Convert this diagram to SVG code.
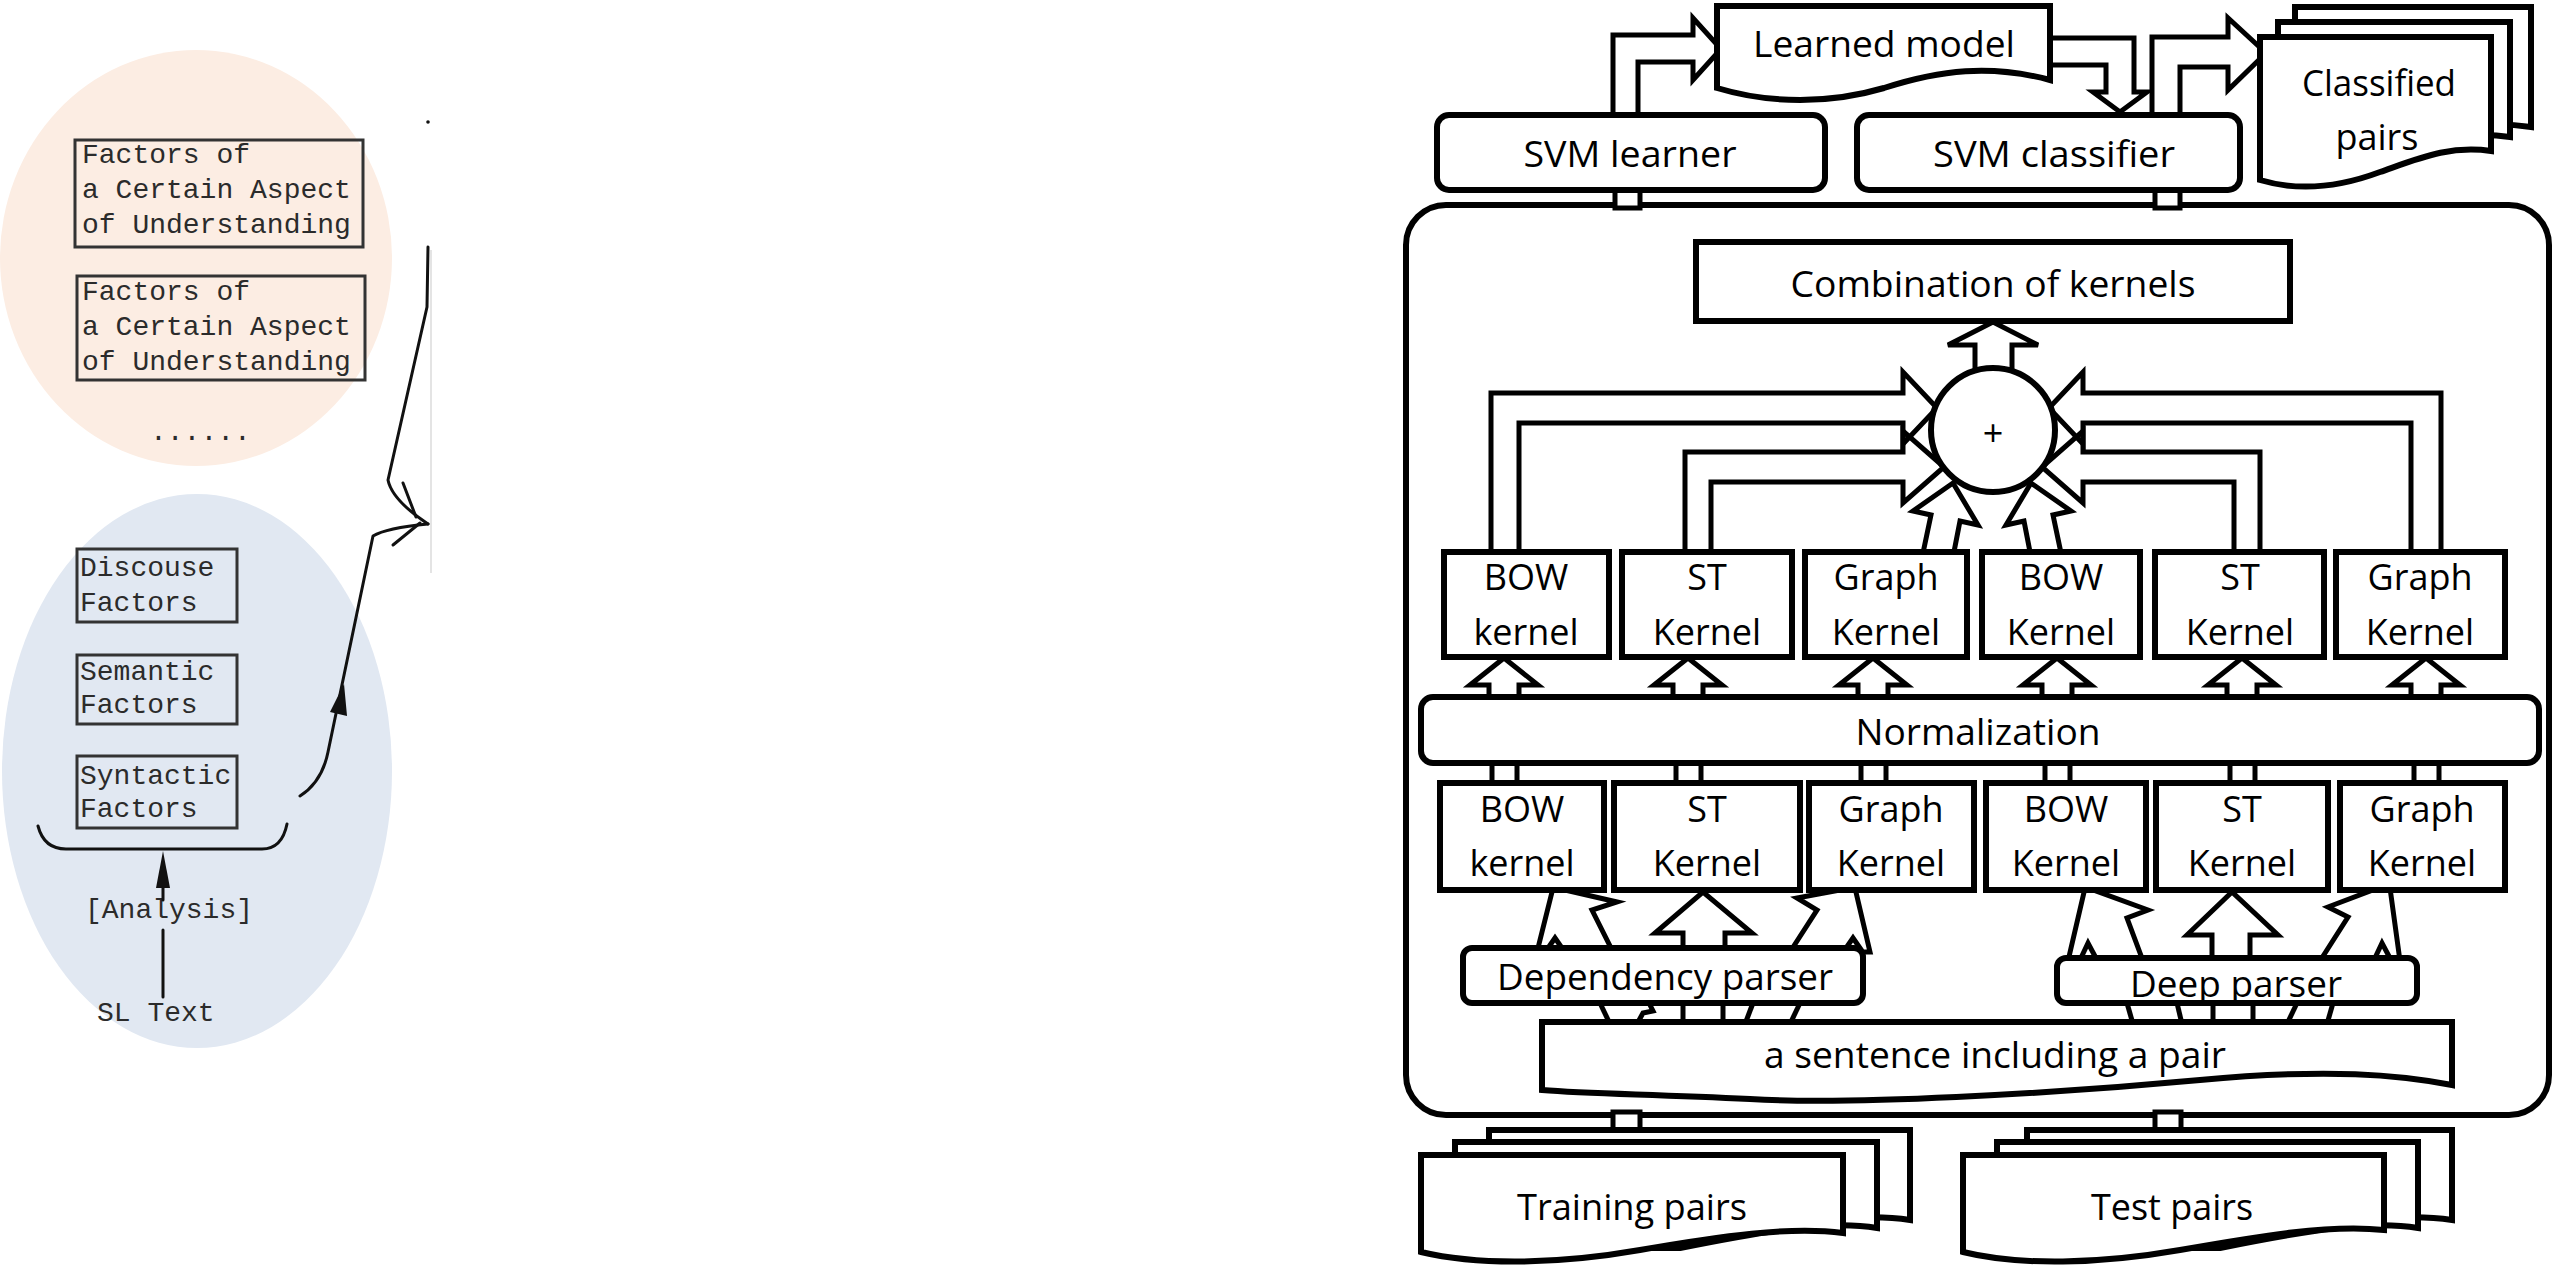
<svg xmlns="http://www.w3.org/2000/svg" width="2560" height="1265" viewBox="0 0 2560 1265">
<style>
.b{fill:#fff;stroke:#000;stroke-width:6}
.a{fill:none;stroke:#000;stroke-width:5;stroke-linejoin:miter}
.aw{fill:#fff;stroke:#000;stroke-width:5;stroke-linejoin:miter}
.t{font-family:"Open Sans","Noto Sans",sans-serif;font-size:36px;fill:#000;text-anchor:middle}
.m{font-family:"Liberation Mono","DejaVu Sans Mono",monospace;font-size:28px;fill:#2b2b2b}
.lb{fill:none;stroke:#333;stroke-width:3}
.ln{fill:none;stroke:#111;stroke-width:3;stroke-linecap:round;stroke-linejoin:round}
</style>
<rect width="2560" height="1265" fill="#fff"/>

<!-- LEFT PART -->
<g id="aspect-group">
<ellipse cx="196" cy="258" rx="196" ry="208" fill="#fcede3"/>
</g>
<g id="level-group">
<ellipse cx="197" cy="771" rx="195" ry="277" fill="#e1e8f2"/>
</g>
<g id="aspect1">
<rect x="75" y="140" width="288" height="107" class="lb"/>
<text class="m" x="82" y="163">Factors of</text>
<text class="m" x="82" y="198">a Certain Aspect</text>
<text class="m" x="82" y="233">of Understanding</text>
</g>
<g id="aspect2">
<rect x="77" y="276" width="288" height="104" class="lb"/>
<text class="m" x="82" y="300">Factors of</text>
<text class="m" x="82" y="335">a Certain Aspect</text>
<text class="m" x="82" y="370">of Understanding</text>
</g>
<g id="dots"><text class="m" x="150" y="440">......</text></g>
<g id="discourse">
<rect x="77" y="549" width="160" height="73" class="lb"/>
<text class="m" x="80" y="576">Discouse</text>
<text class="m" x="80" y="611">Factors</text>
</g>
<g id="semantic">
<rect x="77" y="655" width="160" height="69" class="lb"/>
<text class="m" x="80" y="680">Semantic</text>
<text class="m" x="80" y="713">Factors</text>
</g>
<g id="syntactic">
<rect x="77" y="756" width="160" height="72" class="lb"/>
<text class="m" x="80" y="784">Syntactic</text>
<text class="m" x="80" y="817">Factors</text>
</g>
<g id="analysis"><text class="m" x="85" y="918" font-size="27">[Analysis]</text></g>
<g id="sltext"><text class="m" x="97" y="1021" font-size="27">SL Text</text></g>
<g id="left-connectors">
<path class="ln" d="M38,826 Q44,849 66,849 L262,849 Q282,849 287,824"/>
<line class="ln" x1="163" y1="888" x2="163" y2="900"/>
<polygon points="163,851 156,888 170,888" fill="#111"/>
<line class="ln" x1="163" y1="930" x2="163" y2="997"/>
<path class="ln" d="M300,796 Q322,782 328,752 L373,536 Q386,528 428,524"/>
<polygon points="344,684 330,712 347,716" fill="#111"/>
<path class="ln" d="M428,247 L427,307 L388,480 Q392,500 428,524"/>
<line class="ln" x1="403" y1="483" x2="416" y2="517"/>
<line class="ln" x1="393" y1="545" x2="420" y2="523"/>
<circle cx="428" cy="122" r="1.8" fill="#111"/>
<line x1="431" y1="250" x2="431" y2="573" stroke="#e4e4e4" stroke-width="2"/>
</g>

<!-- RIGHT PART -->
<g id="container">
<rect x="1406" y="205" width="1143" height="910" rx="40" class="b"/>
</g>

<g id="connectors">
<!-- SVM learner -> Learned model -->
<polygon class="aw" points="1613,116 1613,35 1693,35 1693,18 1721,49 1693,80 1693,62 1638,62 1638,116"/>
<!-- Learned model -> SVM classifier -->
<polygon class="aw" points="2048,38 2134,38 2134,92 2147,92 2120,112 2093,92 2106,92 2106,65 2048,65"/>
<!-- SVM classifier -> Classified pairs -->
<polygon class="aw" points="2152,116 2152,37 2228,37 2228,18 2266,53 2228,90 2228,67 2180,67 2180,116"/>
<!-- container <-> SVM boxes -->
<rect class="aw" x="1615" y="186" width="25" height="22"/>
<rect class="aw" x="2155" y="186" width="25" height="22"/>
<!-- container <-> pairs -->
<rect class="aw" x="1613" y="1112" width="27" height="24"/>
<rect class="aw" x="2155" y="1112" width="26" height="24"/>
<!-- circle -> combination -->
<polygon class="aw" points="1975,372 1975,345 1948,345 1993,322 2038,345 2012,345 2012,372"/>
<!-- top kernels -> circle -->
<polygon class="a" points="1491,556 1491,393 1903,393 1903,372 1937,408 1903,444 1903,423 1519,423 1519,556"/>
<polygon class="a" points="1685,556 1685,452 1903,452 1903,431 1944,467 1903,503 1903,482 1711,482 1711,556"/>
<polygon class="a" points="2441,556 2441,393 2083,393 2083,372 2049,408 2083,444 2083,423 2411,423 2411,556"/>
<polygon class="a" points="2260,556 2260,452 2083,452 2083,431 2042,467 2083,503 2083,482 2234,482 2234,556"/>
<polygon class="a" points="1923,553 1931,515 1913,511 1953,483 1978,525 1960,521 1953,557"/>
<polygon class="a" points="2061,553 2053,515 2071,511 2031,483 2006,525 2024,521 2031,557"/>
<!-- normalization -> top kernels -->
<polygon class="a" points="1489,700 1489,685 1470,685 1504,658 1538,685 1519,685 1519,700"/>
<polygon class="a" points="1673,700 1673,685 1654,685 1688,658 1722,685 1703,685 1703,700"/>
<polygon class="a" points="1858,700 1858,685 1839,685 1873,658 1907,685 1888,685 1888,700"/>
<polygon class="a" points="2042,700 2042,685 2023,685 2057,658 2091,685 2072,685 2072,700"/>
<polygon class="a" points="2227,700 2227,685 2208,685 2242,658 2276,685 2257,685 2257,700"/>
<polygon class="a" points="2411,700 2411,685 2392,685 2426,658 2460,685 2441,685 2441,700"/>
<!-- bottom kernels -> normalization -->
<rect class="a" x="1492" y="760" width="25" height="26"/>
<rect class="a" x="1676" y="760" width="25" height="26"/>
<rect class="a" x="1861" y="760" width="25" height="26"/>
<rect class="a" x="2045" y="760" width="25" height="26"/>
<rect class="a" x="2230" y="760" width="25" height="26"/>
<rect class="a" x="2414" y="760" width="25" height="26"/>
<!-- dependency parser -> bottom kernels -->
<polygon class="a" points="1537,952 1553,888 1565,890 1617,902 1592,910 1613,952"/>
<polyline class="a" points="1546,951 1555,938 1564,951"/>
<polygon class="a" points="1683,952 1683,933 1655,933 1703,892 1752,933 1725,933 1725,952"/>
<polygon class="a" points="1870,952 1855,888 1840,890 1797,898 1817,910 1790,952"/>
<polyline class="a" points="1844,951 1853,938 1862,951"/>
<!-- sentence -> dependency parser -->
<polyline class="a" points="1600,1003 1610,1024"/>
<polyline class="a" points="1637,1024 1643,1013 1653,1011 1649,1003"/>
<line class="a" x1="1683" y1="1003" x2="1683" y2="1024"/>
<line class="a" x1="1723" y1="1003" x2="1723" y2="1024"/>
<line class="a" x1="1753" y1="1003" x2="1745" y2="1024"/>
<line class="a" x1="1800" y1="1003" x2="1790" y2="1024"/>
<!-- deep parser -> bottom kernels -->
<polygon class="a" points="2068,961 2085,888 2093,890 2148,910 2127,918 2143,961"/>
<polyline class="a" points="2080,960 2088,943 2097,960"/>
<polygon class="a" points="2212,961 2212,935 2187,935 2232,892 2278,935 2250,935 2250,961"/>
<polygon class="a" points="2400,961 2390,888 2373,890 2328,907 2348,917 2320,961"/>
<polyline class="a" points="2374,960 2382,943 2391,960"/>
<!-- sentence -> deep parser -->
<line class="a" x1="2127" y1="1003" x2="2133" y2="1024"/>
<line class="a" x1="2177" y1="1003" x2="2182" y2="1024"/>
<line class="a" x1="2213" y1="1003" x2="2213" y2="1024"/>
<line class="a" x1="2253" y1="1003" x2="2253" y2="1024"/>
<line class="a" x1="2297" y1="1003" x2="2287" y2="1024"/>
<line class="a" x1="2333" y1="1003" x2="2327" y2="1024"/>
</g>

<g id="learned-model">
<path class="b" d="M1717,6 L2050,6 L2050,80 C1990,64 1940,70 1884,88 C1830,104 1770,104 1717,88 Z"/>
<text class="t" x="1884" y="57" font-size="39" textLength="262" lengthAdjust="spacingAndGlyphs">Learned model</text>
</g>
<g id="svm-learner">
<rect x="1437" y="115" width="388" height="75" rx="12" class="b"/>
<text class="t" x="1630" y="167" font-size="38" textLength="213" lengthAdjust="spacingAndGlyphs">SVM learner</text>
</g>
<g id="svm-classifier">
<rect x="1857" y="115" width="383" height="75" rx="12" class="b"/>
<text class="t" x="2054" y="167" font-size="38" textLength="242" lengthAdjust="spacingAndGlyphs">SVM classifier</text>
</g>
<g id="classified-pairs">
<path class="b" d="M2295,7 L2531,7 L2531,127 C2470,118 2420,135 2380,150 L2295,150 Z"/>
<path class="b" d="M2278,22 L2510,22 L2510,137 C2450,128 2410,150 2370,165 L2278,165 Z"/>
<path class="b" d="M2260,37 L2491,37 L2491,151 C2450,145 2420,158 2380,172 C2340,187 2300,192 2260,180 Z"/>
<text class="t" x="2379" y="96" font-size="38" textLength="154" lengthAdjust="spacingAndGlyphs">Classified</text>
<text class="t" x="2377" y="150" font-size="38">pairs</text>
</g>
<g id="combination">
<rect x="1696" y="242" width="594" height="79" class="b"/>
<text class="t" x="1993" y="297" font-size="38" textLength="405" lengthAdjust="spacingAndGlyphs">Combination of kernels</text>
</g>
<g id="sum">
<circle cx="1993" cy="430" r="62" class="b"/>
<text class="t" x="1993" y="446" font-size="34">+</text>
</g>

<g id="k-top-1"><rect x="1444" y="552" width="165" height="105" class="b"/><text class="t" x="1526" y="590">BOW</text><text class="t" x="1526" y="645">kernel</text></g>
<g id="k-top-2"><rect x="1622" y="552" width="170" height="105" class="b"/><text class="t" x="1707" y="590">ST</text><text class="t" x="1707" y="645">Kernel</text></g>
<g id="k-top-3"><rect x="1805" y="552" width="162" height="105" class="b"/><text class="t" x="1886" y="590">Graph</text><text class="t" x="1886" y="645">Kernel</text></g>
<g id="k-top-4"><rect x="1982" y="552" width="158" height="105" class="b"/><text class="t" x="2061" y="590">BOW</text><text class="t" x="2061" y="645">Kernel</text></g>
<g id="k-top-5"><rect x="2155" y="552" width="169" height="105" class="b"/><text class="t" x="2240" y="590">ST</text><text class="t" x="2240" y="645">Kernel</text></g>
<g id="k-top-6"><rect x="2336" y="552" width="169" height="105" class="b"/><text class="t" x="2420" y="590">Graph</text><text class="t" x="2420" y="645">Kernel</text></g>

<g id="normalization">
<rect x="1421" y="697" width="1118" height="66" rx="12" class="b"/>
<text class="t" x="1978" y="745" font-size="37" textLength="245" lengthAdjust="spacingAndGlyphs">Normalization</text>
</g>

<g id="k-bot-1"><rect x="1440" y="783" width="164" height="107" class="b"/><text class="t" x="1522" y="822">BOW</text><text class="t" x="1522" y="876">kernel</text></g>
<g id="k-bot-2"><rect x="1614" y="783" width="186" height="107" class="b"/><text class="t" x="1707" y="822">ST</text><text class="t" x="1707" y="876">Kernel</text></g>
<g id="k-bot-3"><rect x="1809" y="783" width="165" height="107" class="b"/><text class="t" x="1891" y="822">Graph</text><text class="t" x="1891" y="876">Kernel</text></g>
<g id="k-bot-4"><rect x="1986" y="783" width="160" height="107" class="b"/><text class="t" x="2066" y="822">BOW</text><text class="t" x="2066" y="876">Kernel</text></g>
<g id="k-bot-5"><rect x="2156" y="783" width="172" height="107" class="b"/><text class="t" x="2242" y="822">ST</text><text class="t" x="2242" y="876">Kernel</text></g>
<g id="k-bot-6"><rect x="2340" y="783" width="165" height="107" class="b"/><text class="t" x="2422" y="822">Graph</text><text class="t" x="2422" y="876">Kernel</text></g>

<g id="dependency-parser">
<rect x="1463" y="948" width="400" height="55" rx="9" class="b"/>
<text class="t" x="1665" y="990" textLength="336" lengthAdjust="spacingAndGlyphs">Dependency parser</text>
</g>
<g id="deep-parser">
<rect x="2057" y="958" width="360" height="45" rx="9" class="b"/>
<text class="t" x="2236" y="997" textLength="212" lengthAdjust="spacingAndGlyphs">Deep parser</text>
</g>
<g id="sentence">
<path class="b" d="M1542,1022 L2452,1022 L2452,1085 C2400,1075 2330,1068 2200,1080 C2050,1094 1850,1105 1750,1099 C1650,1094 1590,1094 1542,1090 Z"/>
<text class="t" x="1995" y="1068" textLength="462" lengthAdjust="spacingAndGlyphs">a sentence including a pair</text>
</g>

<g id="training-pairs">
<path class="b" d="M1489,1130 L1910,1130 L1910,1220 C1860,1212 1800,1222 1700,1240 L1489,1240 Z"/>
<path class="b" d="M1455,1142 L1877,1142 L1877,1228 C1830,1220 1770,1230 1680,1248 L1455,1248 Z"/>
<path class="b" d="M1421,1155 L1843,1155 L1843,1233 C1790,1226 1720,1236 1640,1250 C1560,1264 1480,1266 1421,1252 Z"/>
<text class="t" x="1632" y="1220" textLength="230" lengthAdjust="spacingAndGlyphs">Training pairs</text>
</g>
<g id="test-pairs">
<path class="b" d="M2027,1130 L2452,1130 L2452,1220 C2400,1212 2340,1222 2240,1240 L2027,1240 Z"/>
<path class="b" d="M1997,1142 L2418,1142 L2418,1228 C2370,1220 2310,1230 2220,1248 L1997,1248 Z"/>
<path class="b" d="M1963,1155 L2384,1155 L2384,1230 C2330,1224 2260,1236 2180,1250 C2100,1264 2020,1266 1963,1252 Z"/>
<text class="t" x="2172" y="1220" textLength="162" lengthAdjust="spacingAndGlyphs">Test pairs</text>
</g>
</svg>
